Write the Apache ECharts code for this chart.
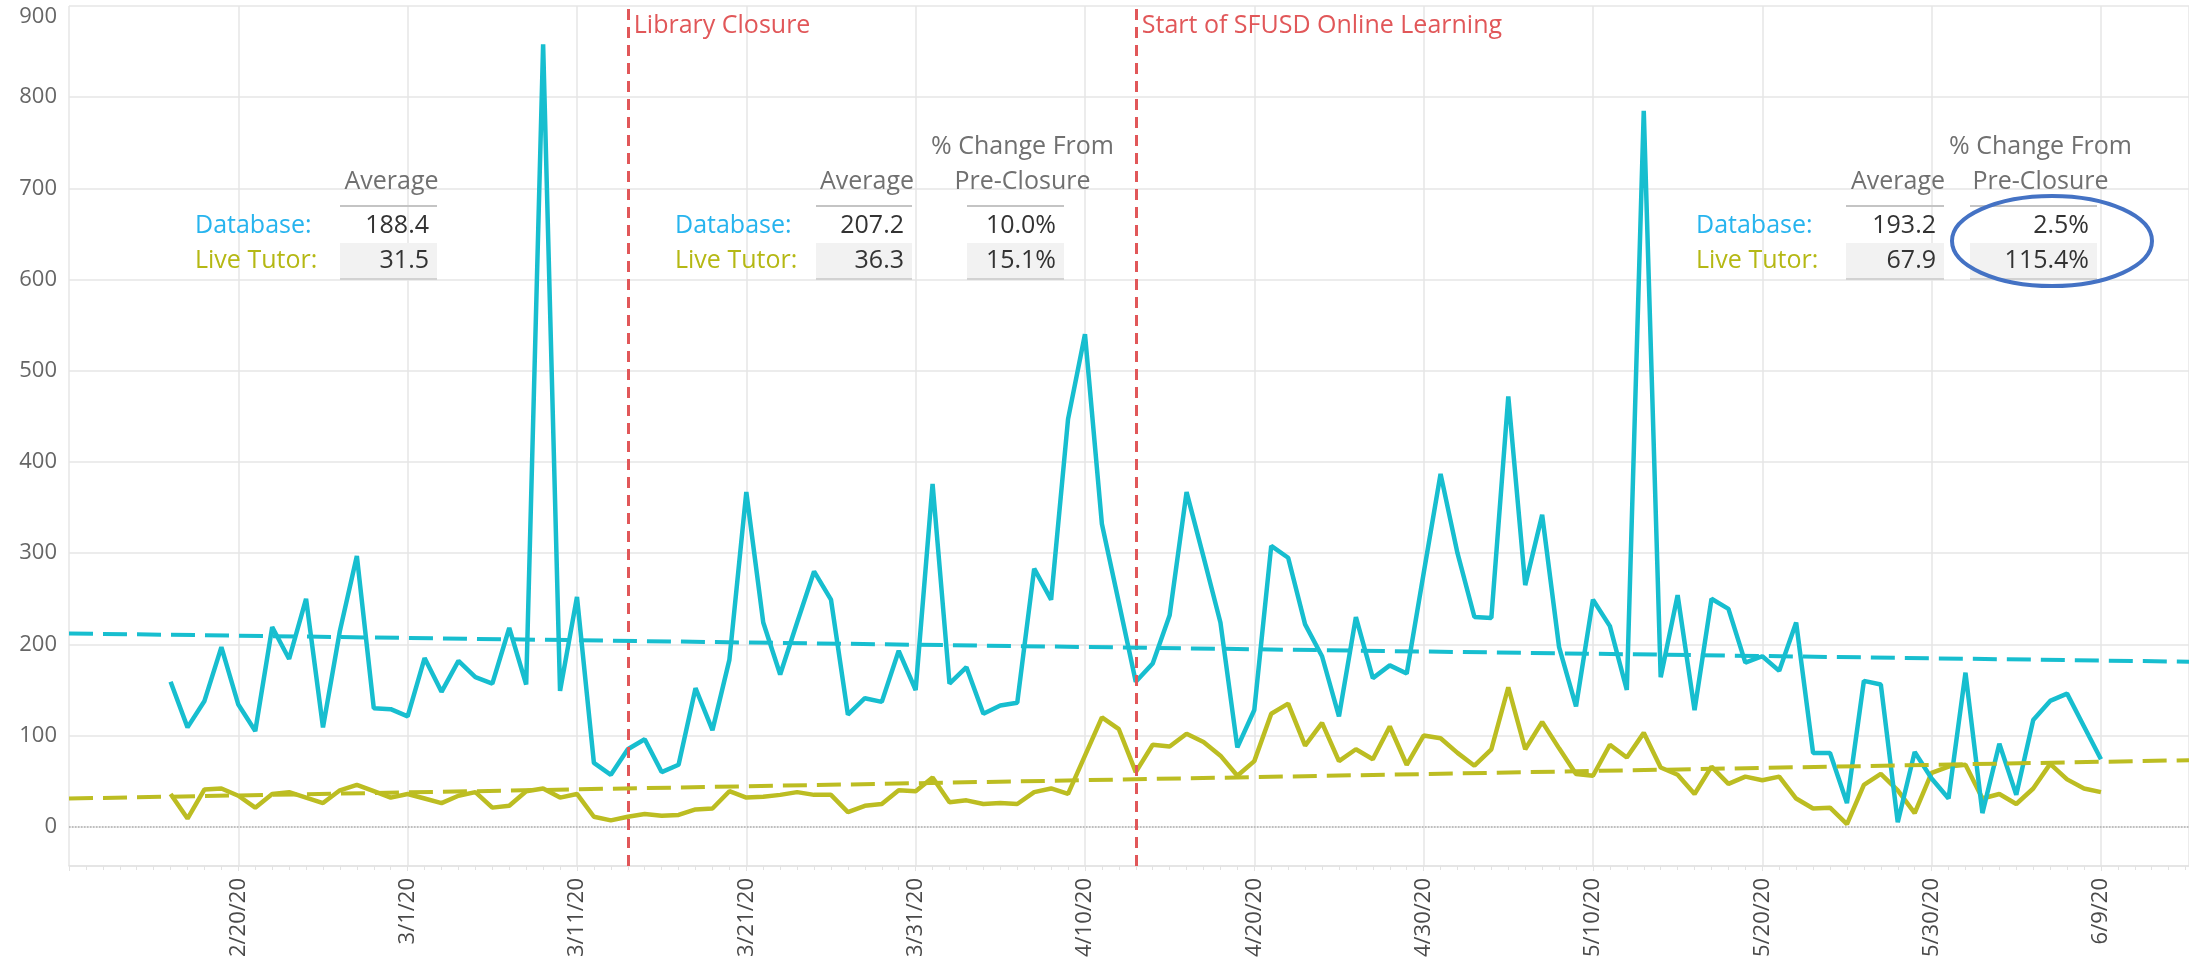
<!DOCTYPE html>
<html>
<head>
<meta charset="utf-8">
<script src="https://cdn.jsdelivr.net/npm/echarts@6/dist/echarts.min.js"></script>
<style>
  html, body { margin: 0; padding: 0; background: #fff; }
  #chart { width: 2189px; height: 976px; }
</style>
</head>
<body>
<div id="chart"></div>
<script>
// 第一天 2/16/20，离 2/20/20 差 4 天
const firstDay = -4;
const baseDate = Date.UTC(2020, 1, 20);

// 每日数据库使用量 (2/16 - 6/9)
const databaseValues = [
  159, 109, 138, 197, 134, 105, 219, 184, 250, 109,
  215, 297, 130, 129, 121, 185, 148, 182, 164, 157,
  218, 156, 858, 149, 252, 70, 57, 85, 96, 60,
  68, 152, 106, 183, 367, 224, 167, 224, 280, 249,
  123, 141, 137, 193, 150, 376, 157, 175, 124, 133,
  136, 283, 249, 447, 540, 332, 246, 159, 179, 232,
  367, 296, 224, 87, 128, 308, 295, 222, 187, 121,
  230, 163, 177, 168, 278, 387, 300, 230, 229, 472,
  265, 342, 197, 132, 249, 220, 150, 785, 164, 254,
  128, 250, 239, 180, 187, 171, 224, 81, 81, 26,
  160, 156, 5, 82, 53, 31, 169, 15, 91, 35,
  117, 138, 146, 110, 74
];

// 每日在线辅导使用量
const tutorValues = [
  36, 9, 41, 42, 34, 21, 36, 38, 32, 26,
  40, 46, 39, 32, 36, 31, 26, 34, 38, 21,
  23, 39, 42, 32, 36, 11, 7, 11, 14, 12,
  13, 19, 20, 39, 32, 33, 35, 38, 35, 35,
  16, 23, 25, 40, 39, 54, 27, 29, 25, 26,
  25, 38, 42, 36, 78, 120, 107, 60, 90, 88,
  102, 93, 78, 56, 72, 124, 135, 89, 114, 72,
  85, 74, 110, 68, 100, 97, 81, 67, 85, 153,
  85, 115, 86, 58, 56, 90, 76, 103, 65, 57,
  36, 66, 47, 55, 51, 55, 31, 20, 21, 3,
  46, 58, 40, 15, 59, 66, 68, 31, 36, 25,
  42, 69, 52, 42, 38
];

// 趋势线两端
const trendDays = [-10, 115.2];
const databaseTrend = [212, 181];
const tutorTrend = [31, 73];

// 事件竖线
const eventDays = [23, 53];
const eventLabels = ['Library Closure', 'Start of SFUSD Online Learning'];

// 表格数值
const databaseAverages = ['188.4', '207.2', '193.2'];
const tutorAverages = ['31.5', '36.3', '67.9'];
const databaseChange = ['10.0%', '2.5%'];
const tutorChange = ['15.1%', '115.4%'];

const dbColor = '#17becf';
const tutorColor = '#bcbd22';
const dbTextColor = '#27b4ee';
const redColor = '#e15759';
const fontName = '"Open Sans", sans-serif';

function dayLabel(d) {
  const dt = new Date(baseDate + d * 86400000);
  return (dt.getUTCMonth() + 1) + '/' + dt.getUTCDate() + '/20';
}

const dom = document.querySelector('#chart');
const myChart = echarts.init(dom);

const option = {
  animation: false,
  grid: { left: 69, right: 0, top: 6, bottom: 110, containLabel: false },
  xAxis: {
    type: 'value',
    min: -10,
    max: 115.2,
    interval: 10,
    axisLine: { show: true, onZero: false, lineStyle: { color: '#e2e2e2', width: 1.5 } },
    axisTick: { show: true, length: 5, lineStyle: { color: '#e2e2e2' } },
    minorTick: { show: true, splitNumber: 10, length: 4, lineStyle: { color: '#e2e2e2' } },
    splitLine: { show: true, lineStyle: { color: '#e6e6e6', width: 1.5 } },
    axisLabel: {
      rotate: 90,
      margin: 12,
      color: '#4a4a4a',
      fontSize: 22,
      fontFamily: fontName,
      showMinLabel: false,
      showMaxLabel: false,
      formatter: v => (v % 10 === 0 && v > -10) ? dayLabel(v) : ''
    }
  },
  yAxis: {
    type: 'value',
    min: -43,
    max: 900,
    splitNumber: 9,
    axisLine: { show: false },
    axisTick: { show: false },
    splitLine: { show: true, lineStyle: { color: '#e6e6e6', width: 1.5 } },
    axisLabel: {
      margin: 12,
      color: '#666',
      fontSize: 22,
      fontFamily: fontName,
      verticalAlignMaxLabel: 'top',
      formatter: v => (v >= 0 && v % 100 === 0) ? String(v) : ''
    }
  },
  series: [
    {
      name: 'Live Tutor',
      type: 'line',
      data: tutorValues.map((v, i) => [firstDay + i, v]),
      symbol: 'none',
      lineStyle: { color: tutorColor, width: 4.5 },
      z: 3,
      markLine: {
        silent: true,
        symbol: 'none',
        label: { show: false },
        lineStyle: { color: '#b0b0b0', type: 'dotted', width: 1.5 },
        data: [{ yAxis: 0 }]
      }
    },
    {
      name: 'Database',
      type: 'line',
      data: databaseValues.map((v, i) => [firstDay + i, v]),
      symbol: 'none',
      lineStyle: { color: dbColor, width: 4.5 },
      z: 4,
      markLine: {
        silent: true,
        symbol: 'none',
        label: { show: false },
        lineStyle: { color: redColor, type: [11, 7], width: 3 },
        data: eventDays.map(d => ({ xAxis: d }))
      }
    },
    {
      name: 'Database trend',
      type: 'line',
      data: trendDays.map((d, i) => [d, databaseTrend[i]]),
      symbol: 'none',
      lineStyle: { color: dbColor, width: 4, type: [24, 10] },
      z: 5
    },
    {
      name: 'Live Tutor trend',
      type: 'line',
      data: trendDays.map((d, i) => [d, tutorTrend[i]]),
      symbol: 'none',
      lineStyle: { color: tutorColor, width: 4, type: [24, 10] },
      z: 5
    }
  ]
};

myChart.setOption(option);

// ---- 文本表格 ----
function txt(x, y, s, color, align, size) {
  return {
    type: 'text', x: x, y: y, z: 100,
    style: {
      text: s, fill: color, align: align, verticalAlign: 'middle',
      font: (size || 25) + 'px ' + fontName
    }
  };
}
function hline(x1, x2, y, color) {
  return { type: 'line', z: 99, shape: { x1: x1, y1: y, x2: x2, y2: y }, style: { stroke: color, lineWidth: 2 } };
}

const tables = [
  { labelX: 195, cols: [[340, 437, ['Average']]], avg: 0 },
  { labelX: 675, cols: [[816, 912, ['Average']], [967, 1064, ['% Change From', 'Pre-Closure']]], avg: 1, chg: 0 },
  { labelX: 1696, cols: [[1846, 1944, ['Average']], [1970, 2097, ['% Change From', 'Pre-Closure']]], avg: 2, chg: 1 }
];

const graphics = [];
tables.forEach(t => {
  graphics.push(txt(t.labelX, 226, 'Database:', dbTextColor, 'left'));
  graphics.push(txt(t.labelX, 261, 'Live Tutor:', '#b5b814', 'left'));
  t.cols.forEach((c, ci) => {
    const x0 = c[0], x1 = c[1], head = c[2];
    const cx = (x0 + x1) / 2 + (ci === 0 ? 3 : 7);
    graphics.push({ type: 'rect', z: 98, shape: { x: x0, y: 243, width: x1 - x0, height: 35 }, style: { fill: '#f2f2f2' } });
    graphics.push(hline(x0, x1, 206, '#c4c4c4'));
    graphics.push(hline(x0, x1, 279, '#d2d2d2'));
    head.forEach((h, hi) => {
      const y = 182 - (head.length - 1 - hi) * 35;
      graphics.push(txt(cx, y, h, '#707070', 'center'));
    });
    const top = ci === 0 ? databaseAverages[t.avg] : databaseChange[t.chg];
    const bottom = ci === 0 ? tutorAverages[t.avg] : tutorChange[t.chg];
    graphics.push(txt(x1 - 8, 226, top, '#333', 'right'));
    graphics.push(txt(x1 - 8, 261, bottom, '#333', 'right'));
  });
});

// 事件文字
eventDays.forEach((d, i) => {
  const px = myChart.convertToPixel({ xAxisIndex: 0 }, d);
  graphics.push(txt(px + 6, 26, eventLabels[i], redColor, 'left', 25));
});

// 圈出的变化
graphics.push({
  type: 'ellipse', z: 101,
  shape: { cx: 2052, cy: 241, rx: 100, ry: 45 },
  style: { fill: 'none', stroke: '#4472c4', lineWidth: 4 }
});

myChart.setOption({ graphic: graphics });
</script>
</body>
</html>
